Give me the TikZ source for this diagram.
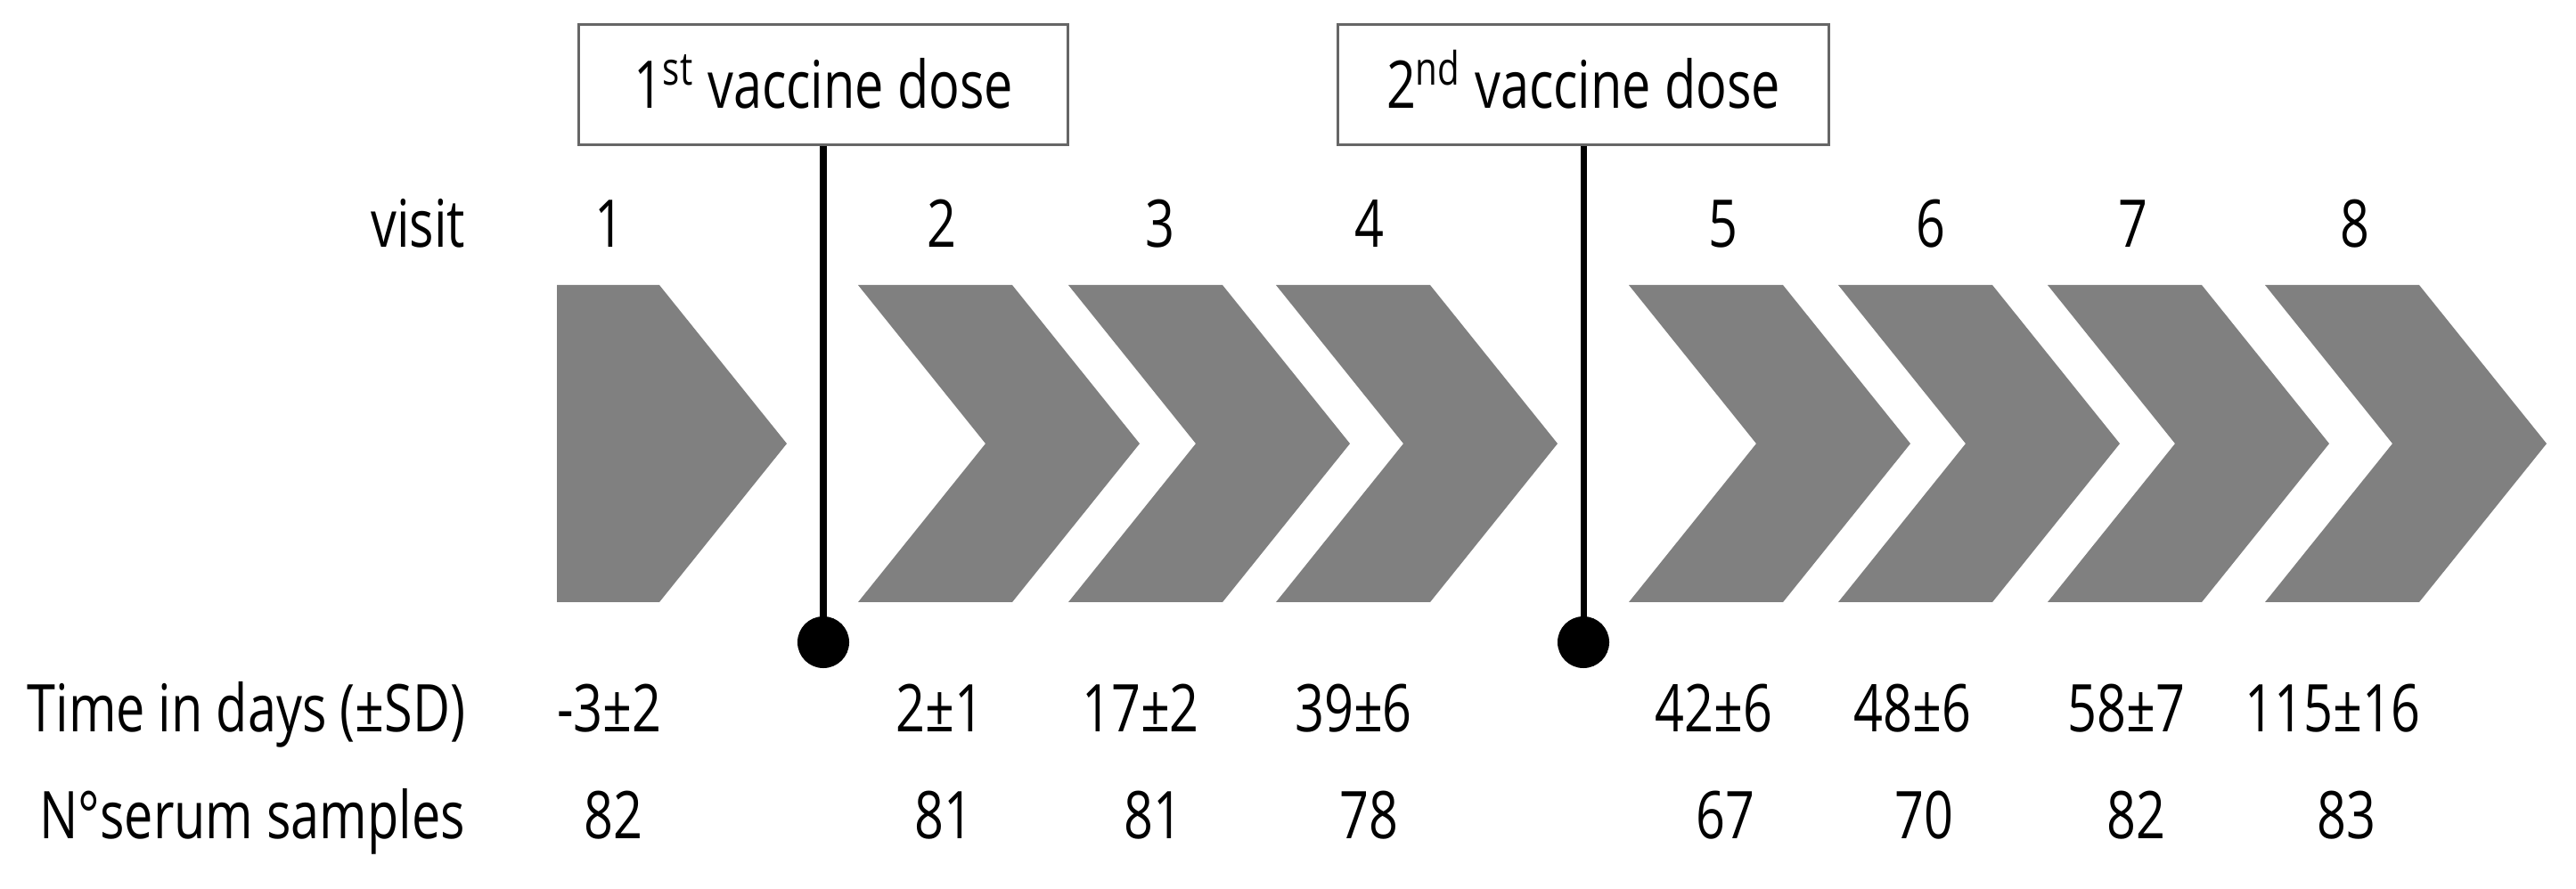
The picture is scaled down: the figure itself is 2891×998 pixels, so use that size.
\documentclass[tikz,border=0pt]{standalone}
\usepackage{fontspec}
\setmainfont[FakeStretch=0.78]{Open Sans}
\definecolor{chevgray}{HTML}{808080}
\definecolor{boxgray}{HTML}{666666}
\tikzset{
  lbl/.style={font=\fontsize{21}{25}\selectfont, inner sep=0pt, anchor=base},
  rowlbl/.style={lbl, anchor=base east},
  dosebox/.style={draw=boxgray, line width=0.85pt, fill=white, minimum width=15.62cm*0.351, minimum height=1.34cm,
    font=\fontsize{21}{25}\selectfont, text height=15.1pt, text depth=0pt, inner sep=0pt},
  dosedot/.style={circle, fill=black, minimum size=0.58cm, inner sep=0pt},
  doseline/.style={line width=2pt, black},
  chev/.pic={\fill[chevgray] (0,0) -- (173,0) -- (316,178) -- (173,356) -- (0,356) -- (143,178) -- cycle;}
}
\begin{document}
\begin{tikzpicture}[x=0.01cm, y=-0.01cm]
\useasboundingbox (0,0) rectangle (2891,998);
% first (pentagon) step
\fill[chevgray] (625,320) -- (740,320) -- (883,498) -- (740,676) -- (625,676) -- cycle;
% chevrons
\foreach \L in {963,1199,1432,1828,2063,2298,2542} {
  \pic at (\L,320) {chev};
}
% dose boxes, lines and dots
\node[dosebox, minimum width=5.49cm] (d1) at (924,95) {1\textsuperscript{st} vaccine dose};
\node[dosebox, minimum width=5.50cm] (d2) at (1777,95) {2\textsuperscript{nd} vaccine dose};
\node[dosedot] (p1) at (924,721) {};
\node[dosedot] (p2) at (1777,721) {};
\draw[doseline] (d1.south) -- (p1.center);
\draw[doseline] (d2.south) -- (p2.center);
% row labels
\node[rowlbl] (visit) at (523,278) {visit};
\node[rowlbl] (time) at (523,822) {Time in days (±SD)};
\node[rowlbl] (num) at (523,942) {N°serum samples};
% visit numbers
\node[lbl] (v1) at (684,278) {1};
\node[lbl] (v2) at (1057,278) {2};
\node[lbl] (v3) at (1302,278) {3};
\node[lbl] (v4) at (1537,278) {4};
\node[lbl] (v5) at (1934,278) {5};
\node[lbl] (v6) at (2167,278) {6};
\node[lbl] (v7) at (2394,278) {7};
\node[lbl] (v8) at (2643,278) {8};
% times
\node[lbl] (t1) at (684,822) {-3±2};
\node[lbl] (t2) at (1055,822) {2±1};
\node[lbl] (t3) at (1280,822) {17±2};
\node[lbl] (t4) at (1519,822) {39±6};
\node[lbl] (t5) at (1923,822) {42±6};
\node[lbl] (t6) at (2146,822) {48±6};
\node[lbl] (t7) at (2386,822) {58±7};
\node[lbl] (t8) at (2618,822) {115±16};
% sample counts
\node[lbl] (n1) at (688,942) {82};
\node[lbl] (n2) at (1059,942) {81};
\node[lbl] (n3) at (1294,942) {81};
\node[lbl] (n4) at (1536,942) {78};
\node[lbl] (n5) at (1936,942) {67};
\node[lbl] (n6) at (2159,942) {70};
\node[lbl] (n7) at (2397,942) {82};
\node[lbl] (n8) at (2633,942) {83};
\end{tikzpicture}
\end{document}
